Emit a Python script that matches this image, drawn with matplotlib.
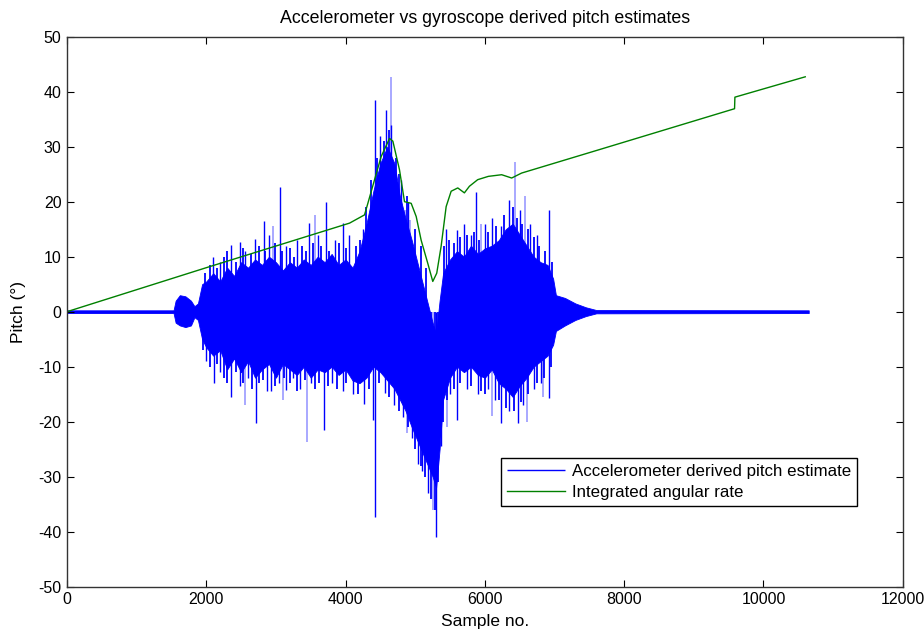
import numpy as np
import matplotlib
matplotlib.use("Agg")
import matplotlib.pyplot as plt

plt.rcParams['font.family'] = ['Liberation Sans', 'DejaVu Sans']
plt.rcParams['axes.unicode_minus'] = False

# accelerometer pitch: dense core of the signal (upper / lower edge)
core_x = [0, 1530, 1560, 1620, 1700, 1780, 1830, 1880, 1940, 2000, 2100, 2200, 2300, 2400,
          2500, 2600, 2700, 2800, 2900, 3000, 3100, 3200, 3300, 3400, 3500, 3600, 3700,
          3800, 3900, 4000, 4100, 4200, 4300, 4400, 4500, 4600, 4700, 4780, 4860, 4950,
          5050, 5150, 5250, 5300, 5350, 5400, 5500, 5600, 5700, 5800, 5900, 6000, 6100,
          6200, 6300, 6400, 6500, 6600, 6700, 6800, 6900, 6980, 7020, 7150, 7300, 7450,
          7600, 10650]
core_hi = [0.25, 0.25, 2.0, 3.0, 2.8, 2.0, 1.0, 1.5, 5.0, 5.5, 7.0, 5.5, 8.0, 6.5,
           9.0, 8.0, 9.5, 8.5, 10.0, 9.0, 7.5, 9.0, 8.0, 9.5, 8.5, 10.0, 9.0,
           10.5, 8.5, 9.5, 8.0, 11.0, 16.0, 22.0, 27.0, 30.0, 27.0, 21.0, 17.0, 13.0,
           8.0, 3.0, -2.0, -4.0, 2.0, 7.0, 9.5, 11.0, 10.0, 12.0, 10.5, 11.5, 12.0,
           13.0, 15.0, 16.0, 14.0, 12.0, 10.0, 9.0, 8.5, 6.0, 3.0, 2.5, 1.5, 0.8,
           0.3, 0.25]
core_lo = [-0.25, -0.25, -2.0, -2.5, -2.8, -2.5, -1.0, -1.5, -5.0, -6.5, -8.0, -7.0, -10.5, -8.5,
           -11.0, -9.0, -12.0, -10.5, -9.5, -12.0, -9.5, -10.5, -11.5, -10.0, -12.0, -10.5, -11.0,
           -10.0, -11.5, -10.5, -12.5, -13.0, -12.0, -10.0, -11.0, -12.5, -14.0, -16.0, -18.0, -21.0,
           -24.0, -27.0, -30.0, -32.0, -25.0, -16.0, -12.0, -10.0, -11.0, -10.0, -11.5, -12.0, -10.5,
           -13.0, -14.0, -15.5, -13.5, -12.0, -10.0, -9.0, -8.0, -6.0, -3.5, -2.5, -1.5, -0.8,
           -0.3, -0.25]

# individual spikes sticking out of the core
spike_x = [2098, 2200, 2351, 2480, 2560, 2695, 2829, 2900, 3054, 3150, 3300, 3470, 3600,
           3723, 3850, 3961, 4050, 4250, 4344, 4416, 4500, 4584, 4650, 4800, 4900, 5444,
           5600, 5700, 5800, 5874, 6000, 6100, 6232, 6340, 6500, 6650, 6750, 6925,
           2000, 2112, 2200, 2351, 2480, 2600, 2720, 2870, 2935, 3050, 3150, 3250, 3350,
           3500, 3689, 3800, 3961, 4100, 4262, 4390, 4416, 4560, 4700, 4820, 4950, 5037,
           5100, 5180, 5300, 5372, 5500, 5600, 5750, 5900, 6050, 6150, 6230, 6350, 6470,
           6550, 6700, 6800, 6925]
spike_y = [10.0, 9.0, 12.1, 12.7, 11.0, 13.3, 16.4, 14.0, 22.7, 12.0, 13.0, 16.1, 14.0,
           20.0, 13.0, 16.1, 14.0, 15.0, 17.3, 38.5, 32.0, 36.7, 34.0, 24.0, 20.0, 15.0,
           14.9, 16.0, 14.0, 21.8, 16.0, 17.0, 15.5, 20.3, 18.5, 16.0, 14.0, 18.5,
           -9.0, -13.0, -11.0, -15.5, -13.6, -12.0, -20.3, -14.5, -14.5, -13.0, -14.2, -12.0, -14.0,
           -13.0, -21.5, -13.0, -14.5, -15.0, -16.7, -19.7, -37.3, -14.8, -17.0, -19.1, -23.0, -27.6,
           -29.0, -33.0, -40.9, -24.5, -15.0, -19.7, -14.0, -15.0, -14.0, -16.0, -20.3, -18.0, -20.3,
           -17.0, -14.0, -13.0, -15.7]

# shorter spikes along the ragged edge of the core
edge_x = [1980, 2050, 2150, 2250, 2300, 2420, 2530, 2640, 2760, 2850, 2980, 3090, 3200,
          3260, 3380, 3430, 3530, 3650, 3760, 3900, 4000, 4150, 4200, 4300, 4370, 4450,
          4550, 4620, 4730, 4760, 4880, 5000, 5080, 5150, 5420, 5480, 5550, 5650, 5750,
          5850, 5920, 6050, 6160, 6280, 6400, 6460, 6540, 6620, 6700, 6780, 6860, 6960,
          1960, 2050, 2150, 2260, 2300, 2420, 2530, 2650, 2760, 2820, 2980, 3120, 3200,
          3300, 3420, 3560, 3620, 3750, 3880, 4000, 4180, 4330, 4480, 4620, 4760, 4900,
          5000, 5080, 5140, 5220, 5280, 5330, 5400, 5460, 5550, 5650, 5800, 5950, 6000,
          6200, 6300, 6420, 6520, 6620, 6750, 6850, 6950]
edge_y = [7.0, 8.5, 8.0, 10.0, 11.0, 9.0, 11.5, 10.5, 12.0, 11.0, 12.5, 11.0, 11.5,
          10.0, 12.0, 11.0, 12.5, 12.0, 11.0, 12.5, 11.5, 12.0, 13.0, 19.0, 24.0, 28.0,
          31.0, 33.0, 28.0, 25.0, 21.0, 15.0, 12.0, 8.0, 12.0, 13.0, 12.5, 13.5, 14.0,
          14.5, 13.0, 14.5, 15.5, 17.5, 19.0, 17.0, 16.0, 15.0, 13.5, 12.0, 11.0, 9.0,
          -7.0, -10.0, -9.5, -12.0, -13.0, -11.0, -13.0, -14.0, -13.0, -12.5, -13.5, -12.0, -13.0,
          -14.5, -12.5, -14.0, -13.0, -13.5, -14.0, -13.0, -15.0, -14.0, -13.0, -15.5, -18.0, -21.0,
          -25.0, -28.0, -30.0, -34.0, -36.0, -31.0, -20.0, -16.0, -14.0, -13.0, -13.5, -14.5, -15.0,
          -16.0, -17.5, -18.0, -16.5, -15.0, -13.0, -12.0, -10.0]

# fainter spikes
faint_x = [4655, 6437, 4850, 4920, 2960, 3560, 5950, 6580,
           3451, 2560, 3100, 5250, 6100, 6600, 5450, 4880, 6840]
faint_y = [42.7, 27.3, 18.5, 16.7, 15.5, 17.5, 16.0, 21.0,
           -23.6, -17.0, -16.0, -36.0, -19.0, -20.0, -21.0, -22.0, -15.5]

# gyroscope integrated angular rate
gyro_x = [0, 2000, 4057, 4272, 4320, 4416, 4511, 4631, 4679, 4774, 4846, 4942, 5014,
          5085, 5180, 5252, 5309, 5372, 5444, 5516, 5611, 5706, 5778, 5897, 6050, 6241,
          6385, 6527, 7627, 9585, 9590, 10600]
gyro_y = [0.0, 8.0, 16.1, 17.6, 19.7, 24.0, 28.2, 31.5, 31.0, 25.8, 20.0, 19.7, 17.3,
          13.0, 8.8, 5.5, 7.0, 11.9, 19.1, 21.9, 22.5, 21.6, 22.8, 24.0, 24.6, 24.9,
          24.3, 25.2, 29.4, 36.9, 39.0, 42.7]

fig = plt.figure(figsize=(9.24, 6.33), dpi=100)
ax = fig.add_axes([0.0725, 0.0731, 0.9045, 0.869])

ax.fill_between(core_x, core_lo, core_hi, color='blue', linewidth=0.6, edgecolor='blue')
ax.vlines(faint_x, 0, faint_y, color='blue', alpha=0.4, linewidth=1.2)
ax.vlines(edge_x, 0, edge_y, color='blue', linewidth=1.3)
acc = ax.vlines(spike_x, 0, spike_y, color='blue', linewidth=1.0,
                label='Accelerometer derived pitch estimate')
ax.plot(gyro_x, gyro_y, color=(0, 0.5, 0), linewidth=1.0, label='Integrated angular rate')

ax.set_xlim(0, 12000)
ax.set_ylim(-50, 50)
ax.set_xticks(np.arange(0, 12001, 2000))
ax.set_yticks(np.arange(-50, 51, 10))
ax.tick_params(direction='in', length=5, top=True, right=True, labelsize=11.5, pad=4)
for s in ax.spines.values():
    s.set_linewidth(1.0)
    s.set_color('#333333')

ax.set_title('Accelerometer vs gyroscope derived pitch estimates', fontsize=12.8, pad=10)
ax.set_xlabel('Sample no.', fontsize=12.5, labelpad=5)
ax.set_ylabel('Pitch (°)', fontsize=12.5, labelpad=9)

leg = ax.legend(loc='lower right', bbox_to_anchor=(0.945, 0.147), fancybox=False,
                edgecolor='black', framealpha=1, borderpad=0.35, handlelength=3.4,
                handletextpad=0.4, labelspacing=0.35, borderaxespad=0,
                prop={'size': 12.2})
leg.get_frame().set_linewidth(1.0)

fig.savefig('out.png', dpi=100)
